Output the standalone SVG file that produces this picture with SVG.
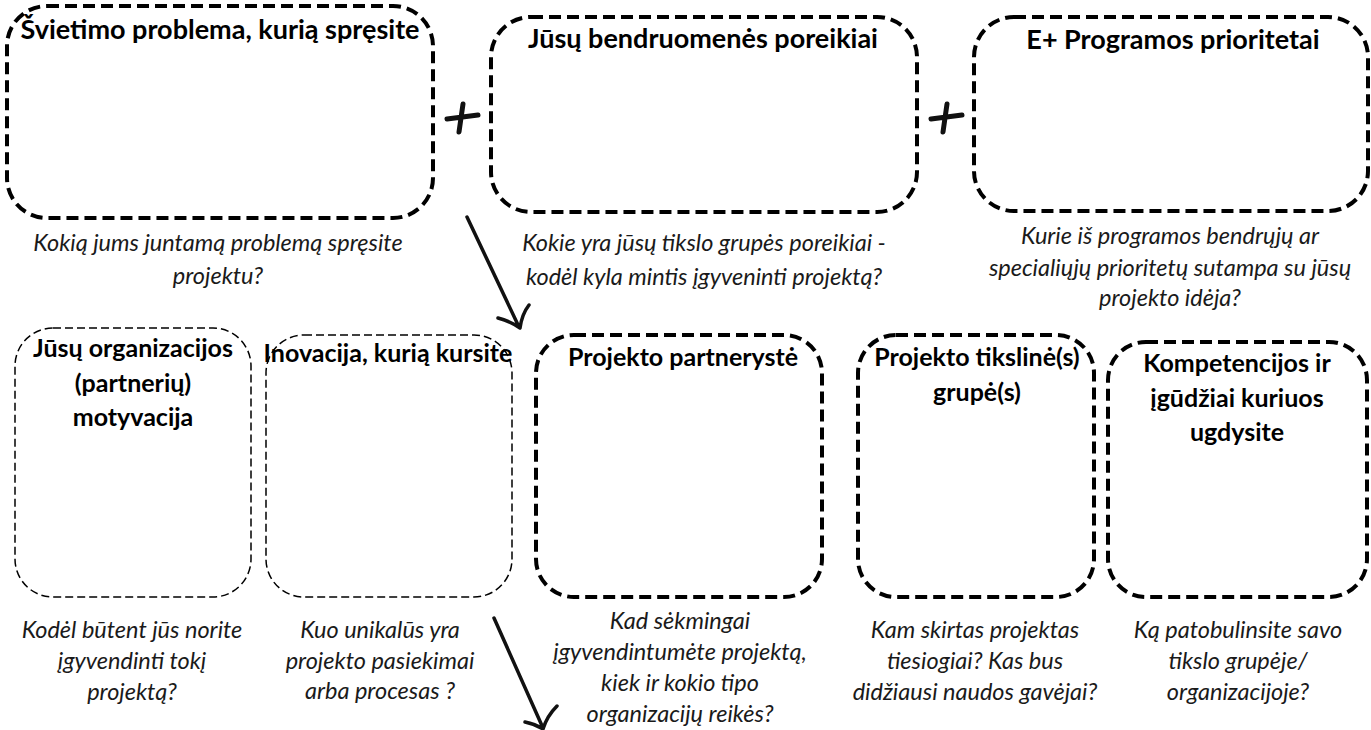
<svg xmlns="http://www.w3.org/2000/svg" width="1371" height="730" viewBox="0 0 1371 730">
<style>
.thick{fill:none;stroke:#000;stroke-width:4;stroke-dasharray:12 6}
.thin{fill:none;stroke:#000;stroke-width:1.5;stroke-dasharray:8 4}
.title{font-family:Lato,"Liberation Sans",sans-serif;font-weight:bold;font-size:25px;fill:#000;text-anchor:middle}
.big{font-size:27px}
.cap{font-family:Lato,"Liberation Sans",sans-serif;font-style:italic;font-size:23.5px;fill:#1a1a1a;text-anchor:middle}
.pen{fill:none;stroke:#111;stroke-linecap:round;stroke-linejoin:round}
</style>
<rect width="1371" height="730" fill="#fff"/>
<g id="n1">
<rect class="thick" x="7" y="6" width="426" height="212" rx="40"/>
<text class="title big" x="220" y="39">Švietimo problema, kurią spręsite</text>
<text class="cap" x="218" y="251">Kokią jums juntamą problemą spręsite</text>
<text class="cap" x="218" y="284">projektu?</text>
</g>
<g id="n2">
<rect class="thick" x="491" y="17" width="426" height="195" rx="40"/>
<text class="title big" x="703" y="48">Jūsų bendruomenės poreikiai</text>
<text class="cap" x="704" y="251">Kokie yra jūsų tikslo grupės poreikiai -</text>
<text class="cap" x="704" y="285">kodėl kyla mintis įgyveninti projektą?</text>
</g>
<g id="n3">
<rect class="thick" x="974" y="17" width="394" height="194" rx="40"/>
<text class="title big" x="1173" y="49">E+ Programos prioritetai</text>
<text class="cap" x="1170" y="244">Kurie iš programos bendrųjų ar</text>
<text class="cap" x="1170" y="276">specialiųjų prioritetų sutampa su jūsų</text>
<text class="cap" x="1170" y="306">projekto idėja?</text>
</g>
<g id="n4">
<rect class="thin" x="15" y="328" width="236" height="269" rx="38"/>
<text class="title" x="133" y="357">Jūsų organizacijos</text>
<text class="title" x="133" y="392">(partnerių)</text>
<text class="title" x="133" y="426">motyvacija</text>
<text class="cap" x="132" y="638">Kodėl būtent jūs norite</text>
<text class="cap" x="132" y="669">įgyvendinti tokį</text>
<text class="cap" x="132" y="700">projektą?</text>
</g>
<g id="n5">
<rect class="thin" x="266" y="335" width="246" height="262" rx="38"/>
<text class="title" x="388" y="362" font-size="18.5">Inovacija, kurią kursite</text>
<text class="cap" x="380" y="638">Kuo unikalūs yra</text>
<text class="cap" x="380" y="669">projekto pasiekimai</text>
<text class="cap" x="380" y="699">arba procesas ?</text>
</g>
<g id="n6">
<rect class="thick" x="536" y="335" width="286" height="262" rx="38"/>
<text class="title" x="683" y="366">Projekto partnerystė</text>
<text class="cap" x="680" y="629">Kad sėkmingai</text>
<text class="cap" x="680" y="660">įgyvendintumėte projektą,</text>
<text class="cap" x="680" y="691">kiek ir kokio tipo</text>
<text class="cap" x="680" y="722">organizacijų reikės?</text>
</g>
<g id="n7">
<rect class="thick" x="858" y="335" width="236" height="262" rx="38"/>
<text class="title" x="977" y="366">Projekto tikslinė(s)</text>
<text class="title" x="977" y="401">grupė(s)</text>
<text class="cap" x="975" y="638">Kam skirtas projektas</text>
<text class="cap" x="975" y="669">tiesiogiai? Kas bus</text>
<text class="cap" x="975" y="700">didžiausi naudos gavėjai?</text>
</g>
<g id="n8">
<rect class="thick" x="1108" y="342" width="259" height="255" rx="38"/>
<text class="title" x="1237" y="372">Kompetencijos ir</text>
<text class="title" x="1237" y="407">įgūdžiai kuriuos</text>
<text class="title" x="1237" y="441">ugdysite</text>
<text class="cap" x="1238" y="638">Ką patobulinsite savo</text>
<text class="cap" x="1238" y="669">tikslo grupėje/</text>
<text class="cap" x="1238" y="700">organizacijoje?</text>
</g>
<g id="connectors">
<path class="pen" stroke-width="5" d="M447,119 Q462,117 478,115 M463,104 Q461,118 459,132"/>
<path class="pen" stroke-width="5" d="M931,119 Q946,117 962,115 M947,104 Q945,118 943,132"/>
<path class="pen" stroke-width="3.5" d="M467,217 Q492,270 519,327 M498,318 Q510,321 520,328 Q522,314 529,305"/>
<path class="pen" stroke-width="3.5" d="M494,618 Q518,672 543,728 M525,722 Q535,724 543,729 Q547,716 557,706"/>
</g>
</svg>
